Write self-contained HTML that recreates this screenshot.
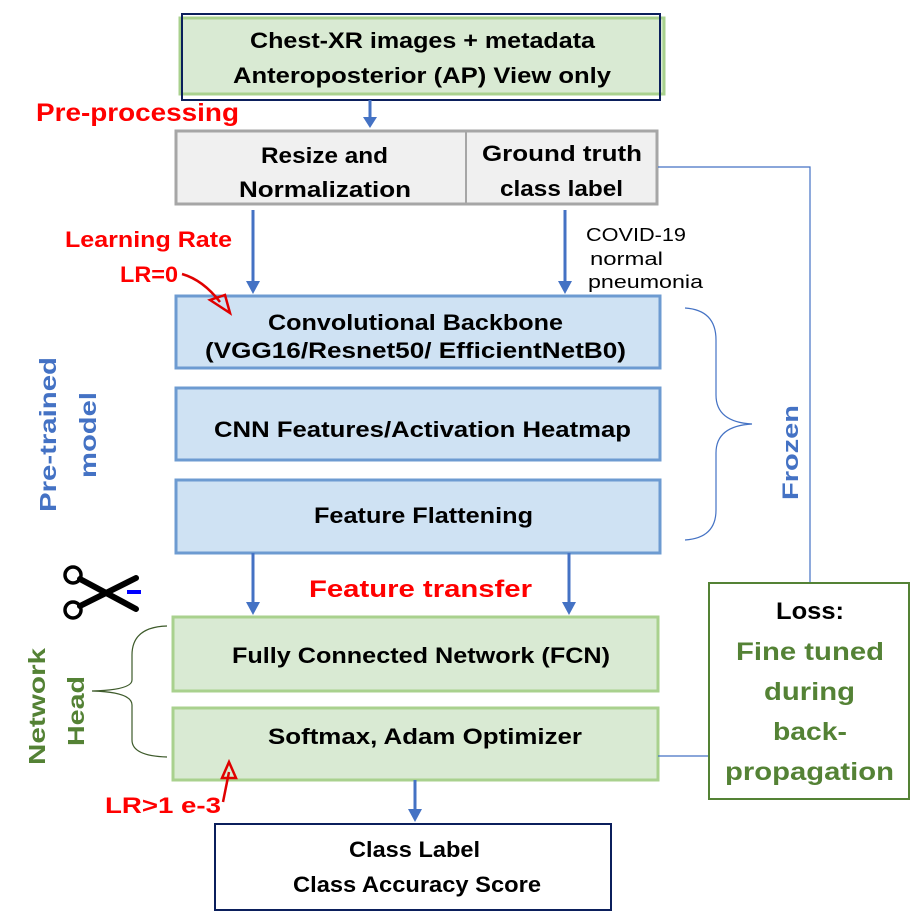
<!DOCTYPE html>
<html><head><meta charset="utf-8"><style>
html,body{margin:0;padding:0;background:#fff;}
svg{display:block;}
text{font-family:"Liberation Sans",sans-serif;font-weight:bold;}
text.n{font-weight:normal;}
</style></head><body>
<svg width="910" height="919" viewBox="0 0 910 919" xmlns="http://www.w3.org/2000/svg">
<rect x="180" y="18" width="484" height="76" fill="#d9ead3" stroke="#a9d18e" stroke-width="3"/>
<rect x="182" y="14" width="478" height="86" fill="none" stroke="#0b1f5c" stroke-width="2"/>
<text x="250" y="48" font-size="22" textLength="345" lengthAdjust="spacingAndGlyphs">Chest-XR images + metadata</text>
<text x="233" y="83" font-size="22" textLength="378" lengthAdjust="spacingAndGlyphs">Anteroposterior (AP) View only</text>
<text x="36" y="121" font-size="25" fill="#ff0000" textLength="203" lengthAdjust="spacingAndGlyphs">Pre-processing</text>
<line x1="370" y1="100" x2="370" y2="118" stroke="#4472c4" stroke-width="3"/>
<path d="M363,117 L377,117 L370,128 Z" fill="#4472c4"/>
<rect x="176" y="131" width="481" height="73" fill="#f0f0f0" stroke="#a6a6a6" stroke-width="3"/>
<line x1="466" y1="131" x2="466" y2="204" stroke="#a6a6a6" stroke-width="2"/>
<text x="261" y="163" font-size="22" textLength="127" lengthAdjust="spacingAndGlyphs">Resize and</text>
<text x="239" y="197" font-size="22" textLength="172" lengthAdjust="spacingAndGlyphs">Normalization</text>
<text x="482" y="161" font-size="22" textLength="160" lengthAdjust="spacingAndGlyphs">Ground truth</text>
<text x="500" y="196" font-size="22" textLength="123" lengthAdjust="spacingAndGlyphs">class label</text>
<polyline points="658,167 810,167 810,583" fill="none" stroke="#4472c4" stroke-width="1.2"/>
<line x1="253" y1="210" x2="253" y2="282" stroke="#4472c4" stroke-width="3"/>
<path d="M246,281 L260,281 L253,294 Z" fill="#4472c4"/>
<line x1="565" y1="210" x2="565" y2="282" stroke="#4472c4" stroke-width="3"/>
<path d="M558,281 L572,281 L565,294 Z" fill="#4472c4"/>
<text x="65" y="247" font-size="22" fill="#ff0000" textLength="167" lengthAdjust="spacingAndGlyphs">Learning Rate</text>
<text x="120" y="282" font-size="22" fill="#ff0000" textLength="58" lengthAdjust="spacingAndGlyphs">LR=0</text>
<text class="n" x="586" y="241" font-size="18" textLength="100" lengthAdjust="spacingAndGlyphs">COVID-19</text>
<text class="n" x="590" y="265" font-size="18" textLength="73" lengthAdjust="spacingAndGlyphs">normal</text>
<text class="n" x="588" y="288" font-size="18" textLength="115" lengthAdjust="spacingAndGlyphs">pneumonia</text>
<rect x="176" y="296" width="484" height="72" fill="#cfe2f3" stroke="#6d9bd1" stroke-width="3"/>
<text x="268" y="330" font-size="22" textLength="295" lengthAdjust="spacingAndGlyphs">Convolutional Backbone</text>
<text x="205" y="358" font-size="22" textLength="421" lengthAdjust="spacingAndGlyphs">(VGG16/Resnet50/ EfficientNetB0)</text>
<path d="M182,274 Q203,280 220,302" fill="none" stroke="#e00000" stroke-width="2.5"/>
<path d="M210,300 L230,313 L225,295 Z" fill="none" stroke="#e00000" stroke-width="2.5"/>
<rect x="176" y="388" width="484" height="72" fill="#cfe2f3" stroke="#6d9bd1" stroke-width="3"/>
<text x="214" y="437" font-size="22" textLength="417" lengthAdjust="spacingAndGlyphs">CNN Features/Activation Heatmap</text>
<rect x="176" y="480" width="484" height="73" fill="#cfe2f3" stroke="#6d9bd1" stroke-width="3"/>
<text x="314" y="523" font-size="22" textLength="219" lengthAdjust="spacingAndGlyphs">Feature Flattening</text>
<path d="M685,308 Q716,310 716,340 L716,395 Q716,422 752,424 Q716,426 716,453 L716,510 Q716,538 685,540" fill="none" stroke="#4472c4" stroke-width="1.2"/>
<text transform="translate(798,500) rotate(-90)" font-size="22" fill="#4472c4" textLength="95" lengthAdjust="spacingAndGlyphs" font-family="DejaVu Sans">Frozen</text>
<text transform="translate(56,512) rotate(-90)" font-size="23" fill="#4472c4" textLength="155" lengthAdjust="spacingAndGlyphs" font-family="DejaVu Sans">Pre-trained</text>
<text transform="translate(96,478) rotate(-90)" font-size="23" fill="#4472c4" textLength="86" lengthAdjust="spacingAndGlyphs" font-family="DejaVu Sans">model</text>
<line x1="253" y1="553" x2="253" y2="603" stroke="#4472c4" stroke-width="3"/>
<path d="M246,602 L260,602 L253,615 Z" fill="#4472c4"/>
<line x1="569" y1="553" x2="569" y2="603" stroke="#4472c4" stroke-width="3"/>
<path d="M562,602 L576,602 L569,615 Z" fill="#4472c4"/>
<text x="309" y="597" font-size="24" fill="#ff0000" textLength="223" lengthAdjust="spacingAndGlyphs">Feature transfer</text>
<g stroke="#000" fill="none">
<circle cx="73" cy="575" r="8" stroke-width="3.5"/>
<circle cx="73" cy="610" r="8" stroke-width="3.5"/>
<path d="M80,579 L136,609" stroke-width="6" stroke-linecap="round"/>
<path d="M80,606 L136,578" stroke-width="6" stroke-linecap="round"/>
</g>
<rect x="127" y="590" width="14" height="4" fill="#0000ff"/>
<rect x="173" y="617" width="485" height="74" fill="#d9ead3" stroke="#a9d18e" stroke-width="3"/>
<text x="232" y="663" font-size="22" textLength="378" lengthAdjust="spacingAndGlyphs">Fully Connected Network (FCN)</text>
<rect x="173" y="708" width="485" height="72" fill="#d9ead3" stroke="#a9d18e" stroke-width="3"/>
<text x="268" y="744" font-size="22" textLength="314" lengthAdjust="spacingAndGlyphs">Softmax, Adam Optimizer</text>
<line x1="658" y1="756" x2="708" y2="756" stroke="#4472c4" stroke-width="1.2"/>
<path d="M167,626 Q132,627 132,655 L132,680 Q132,690 92,691 Q132,692 132,705 L132,740 Q132,756 167,757" fill="none" stroke="#3d5a2a" stroke-width="1.2"/>
<text transform="translate(45,765) rotate(-90)" font-size="23" fill="#548235" textLength="117" lengthAdjust="spacingAndGlyphs" font-family="DejaVu Sans">Network</text>
<text transform="translate(84,746) rotate(-90)" font-size="23" fill="#548235" textLength="70" lengthAdjust="spacingAndGlyphs" font-family="DejaVu Sans">Head</text>
<text x="105" y="813" font-size="22" fill="#ff0000" textLength="116" lengthAdjust="spacingAndGlyphs">LR&gt;1 e-3</text>
<path d="M223,802 L229,772" fill="none" stroke="#e00000" stroke-width="2.5"/>
<path d="M222,778 L229,762 L236,778 Z" fill="none" stroke="#e00000" stroke-width="2.5"/>
<line x1="415" y1="780" x2="415" y2="810" stroke="#4472c4" stroke-width="3"/>
<path d="M408,809 L422,809 L415,822 Z" fill="#4472c4"/>
<rect x="215" y="824" width="396" height="86" fill="#fff" stroke="#0b1f5c" stroke-width="2"/>
<text x="349" y="857" font-size="22" textLength="131" lengthAdjust="spacingAndGlyphs">Class Label</text>
<text x="293" y="892" font-size="22" textLength="248" lengthAdjust="spacingAndGlyphs">Class Accuracy Score</text>
<rect x="709" y="583" width="200" height="216" fill="#fff" stroke="#548235" stroke-width="2"/>
<text x="776" y="619" font-size="24" textLength="68" lengthAdjust="spacingAndGlyphs">Loss:</text>
<text x="736" y="660" font-size="25" fill="#548235" textLength="148" lengthAdjust="spacingAndGlyphs">Fine tuned</text>
<text x="764" y="700" font-size="25" fill="#548235" textLength="91" lengthAdjust="spacingAndGlyphs">during</text>
<text x="773" y="740" font-size="25" fill="#548235" textLength="74" lengthAdjust="spacingAndGlyphs">back-</text>
<text x="725" y="780" font-size="25" fill="#548235" textLength="169" lengthAdjust="spacingAndGlyphs">propagation</text>
</svg>
</body></html>
